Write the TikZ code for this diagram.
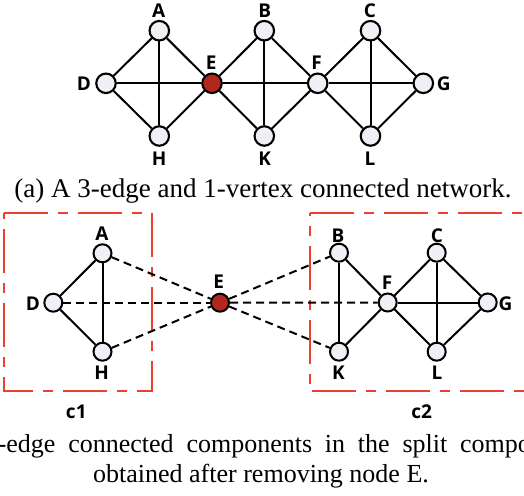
\documentclass[tikz,border=0pt]{standalone}
\usepackage{fontspec}
\setmainfont{Liberation Serif}
\newfontfamily\labfont{Open Sans}
\definecolor{nodefill}{RGB}{239,239,245}
\definecolor{hub}{RGB}{178,38,30}
\definecolor{boxred}{RGB}{232,66,50}
\begin{document}
\begin{tikzpicture}[x=1pt,y=-1pt,
  vtx/.style={circle,draw=black,line width=2.1pt,fill=nodefill,minimum size=19.5pt,inner sep=0pt},
  vtxs/.style={vtx,line width=2pt,minimum size=18pt},
  hubv/.style={fill=hub},
  lab/.style={font=\labfont\bfseries\fontsize{19}{22}\selectfont,inner sep=0pt},
  edge/.style={line width=2pt},
  dedge/.style={line width=2pt,dash pattern=on 8pt off 5pt},
  comp/.style={draw=boxred,line width=2pt,dash pattern=on 44pt off 10pt on 10pt off 10pt},
  captext/.style={inner sep=0pt}
]
\useasboundingbox (0,0) rectangle (524,495);
\clip (0,0) rectangle (524,495);

% ---------- (a) ----------
\node[vtx] (A) at (159.3,30.7) {};
\node[vtx] (B) at (264.3,30.7) {};
\node[vtx] (C) at (370.5,30.7) {};
\node[vtx] (D) at (106,83.3) {};
\node[vtx,hubv] (E) at (212,83.3) {};
\node[vtx] (F) at (317.7,83.3) {};
\node[vtx] (G) at (423.3,83.3) {};
\node[vtx] (H) at (159.3,136) {};
\node[vtx] (K) at (264.3,136) {};
\node[vtx] (L) at (370.5,136) {};

\draw[edge] (A) -- (D);
\draw[edge] (A) -- (H);
\draw[edge] (A) -- (E);
\draw[edge] (D) -- (H);
\draw[edge] (H) -- (E);
\draw[edge] (D) -- (E);
\draw[edge] (E) -- (F);
\draw[edge] (F) -- (G);
\draw[edge] (E) -- (B);
\draw[edge] (E) -- (K);
\draw[edge] (B) -- (K);
\draw[edge] (B) -- (F);
\draw[edge] (K) -- (F);
\draw[edge] (F) -- (C);
\draw[edge] (F) -- (L);
\draw[edge] (C) -- (L);
\draw[edge] (C) -- (G);
\draw[edge] (L) -- (G);

\node[lab] (lA) at (158.8,10.5) {A};
\node[lab] (lB) at (264.7,10.5) {B};
\node[lab] (lC) at (370,10.5) {C};
\node[lab] (lD) at (84,84) {D};
\node[lab] (lE) at (211.3,62.8) {E};
\node[lab] (lF) at (316.7,62.8) {F};
\node[lab] (lG) at (443.8,84) {G};
\node[lab] (lH) at (159.2,158.7) {H};
\node[lab] (lK) at (264.8,158.7) {K};
\node[lab] (lL) at (370,158.7) {L};

\node[captext,anchor=base,font=\fontsize{27}{32}\selectfont] (capa) at (263,197.5)
  {(a) A 3-edge and 1-vertex connected network.};

% ---------- (b) ----------
\draw[comp] (3.7,213.3) -- (151.7,213.3) -- (151.7,391) -- (3.7,391) -- cycle;
\draw[comp] (309.5,213.3) -- (540,213.3) -- (540,391) -- (309.5,391) -- cycle;

\node[vtxs] (bA) at (102.5,253.3) {};
\node[vtxs] (bD) at (53.3,302.7) {};
\node[vtxs] (bH) at (102.5,351.7) {};
\node[vtxs,hubv] (bE) at (220,302.7) {};
\node[vtxs] (bB) at (339,252.7) {};
\node[vtxs] (bK) at (339,351.7) {};
\node[vtxs] (bF) at (387.7,302.5) {};
\node[vtxs] (bC) at (436.7,252.7) {};
\node[vtxs] (bL) at (436.7,351.7) {};
\node[vtxs] (bG) at (487.7,302.5) {};

\draw[edge] (bA) -- (bD);
\draw[edge] (bA) -- (bH);
\draw[edge] (bD) -- (bH);
\draw[dedge] (bA) -- (bE);
\draw[dedge] (bD) -- (bE);
\draw[dedge] (bH) -- (bE);
\draw[dedge] (bE) -- (bB);
\draw[dedge] (bE) -- (bF);
\draw[dedge] (bE) -- (bK);
\draw[edge] (bB) -- (bK);
\draw[edge] (bB) -- (bF);
\draw[edge] (bK) -- (bF);
\draw[edge] (bF) -- (bC);
\draw[edge] (bF) -- (bL);
\draw[edge] (bF) -- (bG);
\draw[edge] (bC) -- (bL);
\draw[edge] (bC) -- (bG);
\draw[edge] (bL) -- (bG);

\node[lab] (lbA) at (102,233.8) {A};
\node[lab] (lbD) at (32.8,303.3) {D};
\node[lab] (lbH) at (101.7,372.5) {H};
\node[lab] (lbE) at (218.8,282) {E};
\node[lab] (lbB) at (338,235.3) {B};
\node[lab] (lbC) at (436.8,235.3) {C};
\node[lab] (lbF) at (387.2,282.5) {F};
\node[lab] (lbG) at (505.5,304.2) {G};
\node[lab] (lbK) at (338.5,372.5) {K};
\node[lab] (lbL) at (437,372.5) {L};
\node[lab] (lc1) at (76.3,411.7) {c1};
\node[lab] (lc2) at (421.7,411.7) {c2};

\node[captext,anchor=base west,font=\fontsize{26}{30}\selectfont] (capb1) at (-58.5,452.5)
  {\hbox to 644pt{(b) 3-edge connected components in the split components}};
\node[captext,anchor=base,font=\fontsize{26}{30}\selectfont] (capb2) at (261,482.5)
  {obtained after removing node E.};
\end{tikzpicture}
\end{document}
